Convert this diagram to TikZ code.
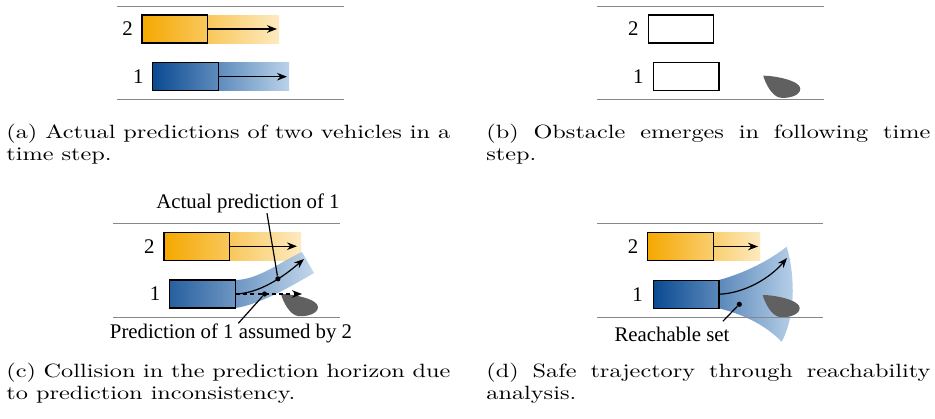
\documentclass[tikz,border=0pt]{standalone}
\usepackage{fontspec}
\usepackage{graphicx}
\newfontfamily\timesf{Liberation Serif}
\usetikzlibrary{arrows.meta,calc}
\definecolor{orA}{RGB}{245,168,0}
\definecolor{orB}{RGB}{253,234,192}
\definecolor{blA}{RGB}{10,74,146}
\definecolor{blB}{RGB}{186,210,234}
\definecolor{roadc}{RGB}{136,136,136}
\definecolor{obst}{RGB}{96,96,96}
\tikzset{
  road/.style={draw=roadc, line width=0.75pt},
  car/.style={draw=black, line width=0.65pt, minimum width=32.8pt, minimum height=14pt, inner sep=0pt},
  parrow/.style={-{Stealth[length=5pt,width=3.8pt]}, line width=0.6pt},
  conn/.style={line width=0.6pt},
  lbl/.style={font=\fontsize{10.4}{12}\selectfont\timesf, inner sep=0pt},
  capt/.style={anchor=base west, inner sep=0pt},
  dotc/.style={circle, fill=black, inner sep=0pt, minimum size=2.6pt},
  obstpic/.pic={\fill[obst] (0,0) .. controls (12,0) and (37,5) .. (37,13) .. controls (37,20) and (25,23) .. (17,22) .. controls (9,21) and (2,8) .. (0,0) -- cycle;}
}
\newcommand{\captxt}[1]{\scalebox{1.264}[1]{\parbox[t]{175.6pt}{\fontsize{9.6}{10.85}\selectfont\tolerance=10000 #1}}}
\begin{document}
\begin{tikzpicture}[x=0.5pt,y=-0.5pt]
\useasboundingbox (0,0) rectangle (935,418);

% ---------- (a)
\path[left color=orA, right color=orB] (141.7,15) rectangle (279,43);
\path[left color=blA, right color=blB] (152.7,62.7) rectangle (289,90.7);
\draw[road] (117,6.5) -- (344,6.5);
\draw[road] (117,99.5) -- (344,99.5);
\node[car] (a2) at (174.7,29) {};
\node[car] (a1) at (185.5,76.7) {};
\coordinate (a2tip) at (277,29);
\coordinate (a1tip) at (287,76.7);
\draw[parrow] (a2.east) -- (a2tip);
\draw[parrow] (a1.east) -- (a1tip);
\node[lbl] (la2) at (127.5,29) {2};
\node[lbl] (la1) at (138.3,76.7) {1};
\node[capt] (capA) at (6,138.5) {\captxt{(a) Actual predictions of two vehicles in a\linebreak time step.}};

% ---------- (b)
\pic at (763.3,75.7) {obstpic};
\draw[road] (597,6.5) -- (824,6.5);
\draw[road] (597,99.5) -- (824,99.5);
\node[car] (b2) at (681,28.9) {};
\node[car] (b1) at (686.2,76.7) {};
\node[lbl] (lb2) at (633.3,28.9) {2};
\node[lbl] (lb1) at (638.3,76.7) {1};
\node[capt] (capB) at (486,138.5) {\captxt{(b) Obstacle emerges in following time\linebreak step.}};

% ---------- (c)
\path[left color=orA, right color=orB] (164.3,232.3) rectangle (301,260);
\path[left color=blA, right color=blB, fill opacity=0.88] (170,280) -- (235,280) .. controls (258,280) and (281,261.5) .. (302,252) -- (314,273) .. controls (295,284) and (260,305) .. (235,308) -- (170,308) -- cycle;
\pic at (281,294) {obstpic};
\draw[road] (113,223.5) -- (340,223.5);
\draw[road] (113,317.5) -- (340,317.5);
\node[car] (c2) at (196.8,246.2) {};
\node[car] (c1) at (202.5,294) {};
\coordinate (c2tip) at (297,246.2);
\coordinate (cAtip) at (304,259);
\coordinate (cDtip) at (302,294);
\draw[parrow] (c2.east) -- (c2tip);
\draw[parrow] (c1.east) .. controls (260,293) and (283,277) .. (cAtip) node[dotc, pos=0.6] (dotA) {};
\draw[parrow, dash pattern=on 2pt off 1.6pt] (c1.east) -- (cDtip) node[dotc, pos=0.433] (dotP) {};
\node[lbl] (lc2) at (149.3,246.2) {2};
\node[lbl] (lc1) at (155,294) {1};
\node[lbl] (labA) at (248,203.3) {Actual prediction of 1};
\node[lbl] (labP) at (231,333.3) {Prediction of 1 assumed by 2};
\draw[conn] (dotA) -- ($(labA.south)+(19,0)$);
\draw[conn] (dotP) -- ($(labP.north)+(7.3,0)$);
\node[capt] (capC) at (6,377.5) {\captxt{(c) Collision in the prediction horizon due\linebreak to prediction inconsistency.}};

% ---------- (d)
\path[left color=orA, right color=orB] (647.7,232.3) rectangle (760,260.7);
\path[left color=blA, right color=blB] (653.3,280) -- (719,280) .. controls (745,273) and (770,260) .. (786.7,246.7) .. controls (795,275) and (796,315) .. (781.7,341.7) .. controls (765,325) and (745,315) .. (719,308.3) -- (653.3,308.3) -- cycle;
\pic at (762.7,295) {obstpic};
\draw[road] (597,223.5) -- (823,223.5);
\draw[road] (597,317.5) -- (823,317.5);
\node[car] (d2) at (680.5,246.5) {};
\node[car] (d1) at (686.2,294.2) {};
\coordinate (d2tip) at (758,246.5);
\coordinate (dAtip) at (787,258);
\draw[parrow] (d2.east) -- (d2tip);
\draw[parrow] (d1.east) .. controls (745,293) and (770,278) .. (dAtip);
\node[dotc] (dotR) at (739.3,304.3) {};
\node[lbl] (ld2) at (633,246.5) {2};
\node[lbl] (ld1) at (637.5,294.2) {1};
\node[lbl] (labR) at (672,334) {Reachable set};
\draw[conn] (dotR) -- ($(labR.north east)+(-7,-5)$);
\node[capt] (capD) at (486,377.5) {\captxt{(d) Safe trajectory through reachability\linebreak analysis.}};
\end{tikzpicture}
\end{document}
